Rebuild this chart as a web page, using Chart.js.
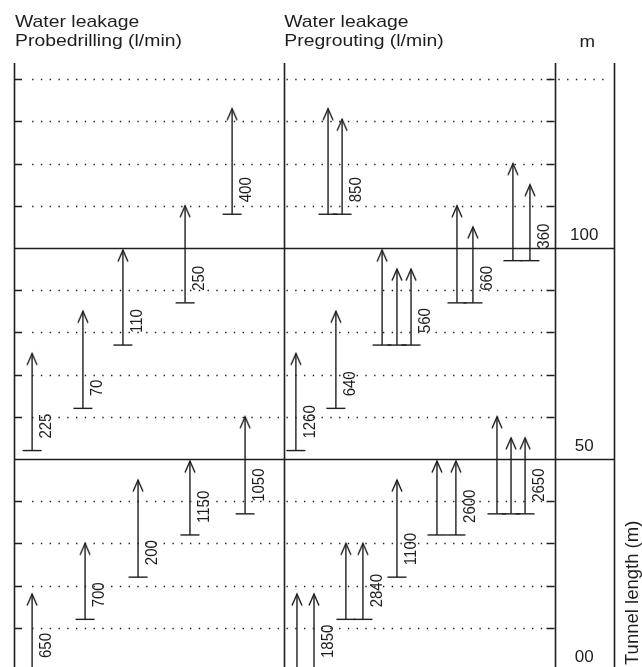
<!DOCTYPE html>
<html>
<head>
<meta charset="utf-8">
<title>Water leakage along the tunnel</title>
<script src="https://cdn.jsdelivr.net/npm/chart.js@4.4.1/dist/chart.umd.min.js"></script>
<style>
  html, body { margin: 0; padding: 0; background: #fff; }
  canvas { display: block; }
</style>
</head>
<body>
<canvas id="leakage" width="642" height="667"></canvas>
<script>
// Probe drilling holes: leakage (l/min), chainage from / to (m), column across the panel
const probeLeakage = [650, 700, 200, 1150, 1050, 225, 70, 110, 250, 400];
const probeStart   = [0, 12, 22, 32, 37, 52, 62, 77, 87, 108];
const probeEnd     = [18, 30, 45, 49.5, 60, 75, 85, 99.5, 110, 133];
const probeColumn  = [6.7, 26.3, 45.9, 65.1, 85.5, 6.7, 25.5, 40.3, 63.3, 80.7];

// Pregrouting rounds: the holes of one round share a start chainage and one leakage figure
const groutLeakage = [1850, 2840, 1100, 2600, 2650, 1260, 640, 560, 660, 360, 850];
const groutStart   = [0, 12, 22, 32, 37, 52, 62, 77, 87, 97, 108];
const groutEnd     = [[18, 18], [30, 30], [45], [49.5, 49.5], [60, 55, 55], [75], [85],
                      [99.5, 95, 95], [110, 105], [120, 115], [133, 130.5]];
const groutColumn  = [[104.7, 111.0], [122.8, 129.1], [141.7], [156.5, 163.5], [178.7, 183.9, 189.1],
                      [104.3], [119.1], [136.2, 141.7, 146.9], [163.9, 169.8], [184.6, 190.9], [116.2, 121.4]];

// Chainage axis (m)
const chainageTicks  = [10, 20, 30, 40, 60, 70, 80, 90, 110, 120, 130, 140];
const sectionValues  = [100, 50, 0];
const sectionText    = ['100', '50', '00'];

// Panel frame on the horizontal scale: probe panel, pregrouting panel, metre column
const panelEdges = [0, 100, 200, 222];

const INK = '#1e1e1e';
const FONT = '"Liberation Sans", Arial, Helvetica, sans-serif';

// One record per drilling round
const rounds = [];
probeLeakage.forEach((q, i) => rounds.push({
  leak: q, start: probeStart[i], ends: [probeEnd[i]], cols: [probeColumn[i]]
}));
groutLeakage.forEach((q, i) => rounds.push({
  leak: q, start: groutStart[i], ends: groutEnd[i], cols: groutColumn[i]
}));

// Open arrow head, apex at the centre of the sprite
const head = document.createElement('canvas');
head.width = 14; head.height = 26;
(() => {
  const g = head.getContext('2d');
  g.strokeStyle = INK; g.lineWidth = 1.4; g.lineJoin = 'miter';
  g.beginPath(); g.moveTo(2, 24.5); g.lineTo(7, 13); g.lineTo(12, 24.5); g.stroke();
})();

// Each hole is a two-point line: start (T-bar) -> end (arrow head)
const datasets = [];
rounds.forEach(r => {
  r.cols.forEach((c, k) => {
    datasets.push({
      data: [{ x: c, y: r.start }, { x: c, y: r.ends[k] }],
      showLine: true,
      borderColor: INK,
      borderWidth: 1.4,
      pointStyle: ctx => ctx.dataIndex === 0 ? 'line' : head,
      pointRadius: ctx => ctx.dataIndex === 0 ? 9.5 : 6,
      pointBorderWidth: 1.4,
      pointBorderColor: INK,
      pointBackgroundColor: INK
    });
  });
});

function drawText(ctx, text, px, py, opts) {
  const o = Object.assign({ size: 17, sx: 1, rotate: false, align: 'left' }, opts);
  ctx.save();
  ctx.translate(px, py);
  ctx.scale(o.sx, 1);
  if (o.rotate) ctx.rotate(-Math.PI / 2);
  ctx.font = o.size + 'px ' + FONT;
  ctx.fillStyle = INK;
  ctx.textAlign = o.align;
  ctx.textBaseline = 'alphabetic';
  ctx.fillText(text, 0, 0);
  ctx.restore();
}

const framePlugin = {
  id: 'frame',
  beforeDatasetsDraw(chart) {
    const { ctx, chartArea: a, scales: { x, y } } = chart;
    const topTick = Math.max(...chainageTicks);
    ctx.save();
    ctx.strokeStyle = INK;

    // dotted chainage lines
    ctx.lineWidth = 1.4;
    ctx.setLineDash([1.4, 7.37]);
    chainageTicks.forEach(v => {
      const py = Math.round(y.getPixelForValue(v)) + 0.5;
      const xEnd = v === topTick ? x.getPixelForValue(219.8) : x.getPixelForValue(197);
      ctx.beginPath();
      ctx.moveTo(x.getPixelForValue(6.7), py);
      ctx.lineTo(xEnd, py);
      ctx.stroke();
    });
    ctx.setLineDash([]);

    // tick marks on the outer axes
    chainageTicks.forEach(v => {
      const py = Math.round(y.getPixelForValue(v)) + 0.5;
      ctx.beginPath();
      ctx.moveTo(x.getPixelForValue(panelEdges[0]), py);
      ctx.lineTo(x.getPixelForValue(panelEdges[0]) + 8, py);
      ctx.moveTo(x.getPixelForValue(panelEdges[2]) - 8, py);
      ctx.lineTo(x.getPixelForValue(panelEdges[2]), py);
      ctx.stroke();
    });

    // 50 m section lines
    ctx.lineWidth = 1.6;
    sectionValues.forEach(v => {
      const py = Math.round(y.getPixelForValue(v)) + 0.5;
      ctx.beginPath();
      ctx.moveTo(x.getPixelForValue(panelEdges[0]), py);
      ctx.lineTo(x.getPixelForValue(panelEdges[3]), py);
      ctx.stroke();
    });

    // panel borders
    panelEdges.forEach(e => {
      const px = Math.round(x.getPixelForValue(e)) + 0.5;
      ctx.beginPath();
      ctx.moveTo(px, a.top);
      ctx.lineTo(px, a.bottom + 2);
      ctx.stroke();
    });
    ctx.restore();
  },
  afterDatasetsDraw(chart) {
    const { ctx, scales: { x, y } } = chart;

    // leakage figure beside each round, reading upwards from the start chainage
    rounds.forEach(r => {
      const px = x.getPixelForValue(Math.max(...r.cols)) + 19;
      const py = y.getPixelForValue(r.start) - 12;
      drawText(ctx, String(r.leak), px, py, { size: 15, sx: 1.12, rotate: true });
    });

    // chainage labels in the metre column
    const mid = (x.getPixelForValue(panelEdges[2]) + x.getPixelForValue(panelEdges[3])) / 2;
    sectionValues.forEach((v, i) => {
      drawText(ctx, sectionText[i], mid, y.getPixelForValue(v) - 8, { size: 17, align: 'center' });
    });

    // headings
    const x0 = x.getPixelForValue(panelEdges[0]) + 1;
    const x1 = x.getPixelForValue(panelEdges[1]);
    drawText(ctx, 'Water leakage', x0, 27, { sx: 1.14 });
    drawText(ctx, 'Probedrilling (l/min)', x0, 46, { sx: 1.14 });
    drawText(ctx, 'Water leakage', x1, 27, { sx: 1.14 });
    drawText(ctx, 'Pregrouting (l/min)', x1, 46, { sx: 1.14 });
    drawText(ctx, 'm', mid + 3, 47, { sx: 1.1, align: 'center' });
    drawText(ctx, 'Tunnel length (m)', x.getPixelForValue(panelEdges[3]) + 24, 665, { size: 18.5, rotate: true });
  }
};

new Chart(document.getElementById('leakage'), {
  type: 'scatter',
  data: { datasets },
  options: {
    responsive: false,
    animation: false,
    events: [],
    devicePixelRatio: 1,
    layout: { autoPadding: false, padding: { left: 14, right: 28, top: 63, bottom: 0 } },
    scales: {
      x: { type: 'linear', min: panelEdges[0], max: panelEdges[3], display: false },
      y: { type: 'linear', min: 0.711, max: 143.84, display: false }
    },
    plugins: { legend: { display: false }, tooltip: { enabled: false } }
  },
  plugins: [framePlugin]
});
</script>
</body>
</html>
